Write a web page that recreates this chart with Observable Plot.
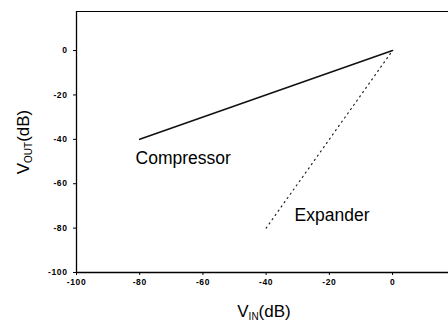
<!DOCTYPE html>
<html><head><meta charset="utf-8">
<script src="https://cdn.jsdelivr.net/npm/d3@7"></script>
<script src="https://cdn.jsdelivr.net/npm/@observablehq/plot@0.6"></script>
<style>
html,body{margin:0;padding:0;background:#fff;}
svg{display:block;font-family:Arial,"Liberation Sans",sans-serif;}
</style></head><body>
<div id="chart"></div>
<script>
const xTicks = [-100, -80, -60, -40, -20, 0];
const yTicks = [-100, -80, -60, -40, -20, 0];
const compressorX = [-80, 0];
const compressorY = [-40, 0];
const expanderX = [-40, 0];
const expanderY = [-80, 0];
const labels = ["Compressor", "Expander"];
const labelX = [-81.3, -31];
const labelY = [-48.5, -74.2];

const compressor = compressorX.map((x, i) => ({x, y: compressorY[i]}));
const expander = expanderX.map((x, i) => ({x, y: expanderY[i]}));
const labelData = labels.map((t, i) => ({t, x: labelX[i], y: labelY[i]}));

const xDomain = [-100, 17.7];
const yDomain = [-100, 17.6];

const plot = Plot.plot({
  width: 448, height: 322,
  marginLeft: 76, marginRight: 0, marginTop: 11, marginBottom: 50,
  style: {fontFamily: "Arial, 'Liberation Sans', sans-serif", color: "#000", background: "#fff"},
  x: {domain: xDomain},
  y: {domain: yDomain},
  marks: [
    Plot.ruleX([xDomain[0]], {stroke: "#000", strokeWidth: 1.3}),
    Plot.ruleY([yDomain[0]], {stroke: "#000", strokeWidth: 1.3}),
    Plot.ruleY([yDomain[1]], {stroke: "#000", strokeWidth: 1}),
    Plot.axisX({ticks: xTicks, tickSize: 3, tickPadding: 3, fontSize: 8.5, fontWeight: "bold", tickFormat: d => String(d), label: null}),
    Plot.axisY({ticks: yTicks, tickSize: 3, tickPadding: 6, fontSize: 8.5, fontWeight: "bold", tickFormat: d => String(d), label: null}),
    Plot.line(compressor, {x: "x", y: "y", stroke: "#111", strokeWidth: 1.6}),
    Plot.line(expander, {x: "x", y: "y", stroke: "#222", strokeWidth: 1.2, strokeDasharray: "1.2,4"}),
    Plot.text(labelData, {x: "x", y: "y", text: "t", textAnchor: "start", fontSize: 17.5, fill: "#000"})
  ]
});
document.getElementById("chart").appendChild(plot);

const svg = d3.select(plot);
svg.selectAll("[aria-label='x-axis tick label'] text, [aria-label='y-axis tick label'] text").style("letter-spacing", "0.6px");
// x axis label V_IN(dB)
const xl = svg.append("text").attr("x", 264).attr("y", 317).attr("text-anchor", "middle")
  .attr("font-size", 17).attr("fill", "#000");
xl.append("tspan").text("V");
xl.append("tspan").text("IN").attr("font-size", 10).attr("dy", 3);
xl.append("tspan").text("(dB)").attr("dy", -3);
// y axis label V_OUT(dB)
const yl = svg.append("text").attr("transform", "translate(29,142) rotate(-90)").attr("text-anchor", "middle")
  .attr("font-size", 17).attr("fill", "#000");
yl.append("tspan").text("V");
yl.append("tspan").text("OUT").attr("font-size", 10).attr("dy", 3);
yl.append("tspan").text("(dB)").attr("dy", -3);
</script>
</body></html>
